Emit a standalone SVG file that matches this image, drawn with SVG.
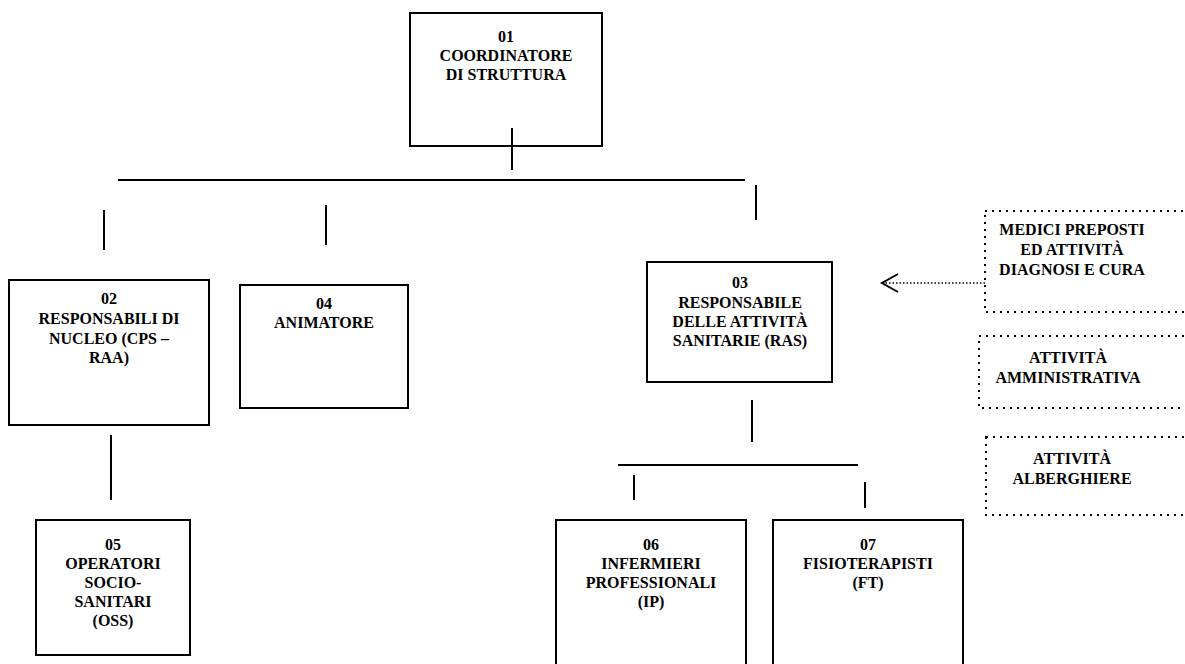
<svg xmlns="http://www.w3.org/2000/svg" width="1185" height="664" viewBox="0 0 1185 664">
<style>
.box{fill:#fff;stroke:#000;stroke-width:2}
.dot{fill:none;stroke:#000;stroke-width:2;stroke-dasharray:2 5}
.ln{stroke:#000;stroke-width:2;fill:none}
text{font-family:"Liberation Serif","Times New Roman",serif;font-weight:bold;font-size:16px;fill:#000;text-anchor:middle}
</style>
<g id="n01"><rect class="box" x="410" y="13" width="192" height="133"/>
<text x="506" y="42">01</text><text x="506" y="61">COORDINATORE</text><text x="506" y="80">DI STRUTTURA</text></g>
<g id="n02"><rect class="box" x="9" y="280" width="200" height="145"/>
<text x="109" y="304">02</text><text x="109" y="324">RESPONSABILI DI</text><text x="109" y="344">NUCLEO (CPS –</text><text x="109" y="363">RAA)</text></g>
<g id="n04"><rect class="box" x="240" y="285" width="168" height="123"/>
<text x="324" y="309">04</text><text x="324" y="328">ANIMATORE</text></g>
<g id="n03"><rect class="box" x="647" y="262" width="185" height="120"/>
<text x="740" y="288">03</text><text x="740" y="308">RESPONSABILE</text><text x="740" y="327">DELLE ATTIVITÀ</text><text x="740" y="346">SANITARIE  (RAS)</text></g>
<g id="n05"><rect class="box" x="36" y="520" width="154" height="135"/>
<text x="113" y="550">05</text><text x="113" y="569">OPERATORI</text><text x="113" y="588">SOCIO-</text><text x="113" y="607">SANITARI</text><text x="113" y="626">(OSS)</text></g>
<g id="n06"><rect class="box" x="556" y="520" width="190" height="160"/>
<text x="651" y="550">06</text><text x="651" y="569">INFERMIERI</text><text x="651" y="588">PROFESSIONALI</text><text x="651" y="607">(IP)</text></g>
<g id="n07"><rect class="box" x="773" y="520" width="190" height="160"/>
<text x="868" y="550">07</text><text x="868" y="569">FISIOTERAPISTI</text><text x="868" y="588">(FT)</text></g>
<g id="medici"><rect class="dot" x="985" y="211" width="210" height="101"/>
<text x="1072" y="235">MEDICI PREPOSTI</text><text x="1072" y="255">ED ATTIVITÀ</text><text x="1072" y="275">DIAGNOSI E CURA</text></g>
<g id="amministrativa"><rect class="dot" x="979" y="336" width="215" height="72"/>
<text x="1068" y="363">ATTIVITÀ</text><text x="1068" y="383">AMMINISTRATIVA</text></g>
<g id="alberghiere"><rect class="dot" x="986" y="437" width="210" height="78"/>
<text x="1072" y="464">ATTIVITÀ</text><text x="1072" y="484">ALBERGHIERE</text></g>
<g id="connectors">
<line class="ln" x1="512" y1="128" x2="512" y2="170"/>
<line class="ln" x1="118" y1="180" x2="745" y2="180"/>
<line class="ln" x1="104" y1="210" x2="104" y2="250"/>
<line class="ln" x1="326" y1="205" x2="326" y2="245"/>
<line class="ln" x1="756" y1="185" x2="756" y2="220"/>
<line class="ln" x1="111" y1="435" x2="111" y2="500"/>
<line class="ln" x1="752" y1="400" x2="752" y2="442"/>
<line class="ln" x1="618" y1="465" x2="858" y2="465"/>
<line class="ln" x1="634" y1="475" x2="634" y2="500"/>
<line class="ln" x1="865" y1="482" x2="865" y2="508"/>
<line x1="985" y1="283" x2="884" y2="283" stroke="#000" stroke-width="1.5" stroke-dasharray="1.5 2"/>
<polyline class="ln" stroke-width="1.5" points="898,274 882,283 898,292"/>
</g>
</svg>
